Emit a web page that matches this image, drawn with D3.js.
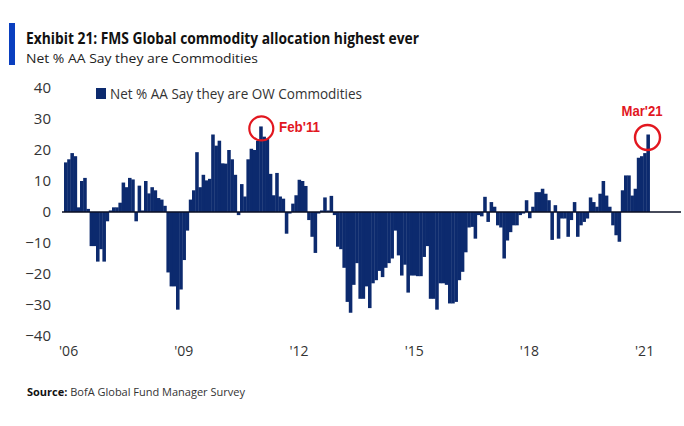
<!DOCTYPE html>
<html>
<head>
<meta charset="utf-8">
<script src="https://cdn.jsdelivr.net/npm/d3@7"></script>
<style>
  html, body { margin: 0; padding: 0; background: #fff; }
  svg { display: block; }
</style>
</head>
<body>
<svg id="chart" width="684" height="426"></svg>
<script>
// ---- data (monthly, Jan 2006 .. Mar 2021) ----
const startYear = 2006;
const values = [
  16, 17, 19, 18, 1.5, 10, 11, 1, -11, -11, -16, -12,          // 2006
  -16, -3, 0.5, 1.5, 1.5, 3, 9.5, 8, 11, 10.5, -3, 8.5,        // 2007
  0.5, 10, 6, 8, 7, 4.5, 4, 2, -19.5, -24, -24, -31.5,         // 2008
  -25, -15.5, -6, 4, 7, 19.3, 8, 12, 10.2, 10.7, 25, 21.4,     // 2009
  23, 15.7, 15.6, 20, 17, 12, -1, 9, 5, 17, 20.4, 20,          // 2010
  23, 27.6, 24.3, 23.6, 12.3, 5.4, 12.6, 5, 4.3, -7, -0.5, 2.7, // 2011
  5.4, 10.4, 10, 8.4, -2.6, -8, -13.2, -0.5, 0.5, 4.7, 0.5, 5.2, // 2012
  -1, -11.2, -12, -18, -29, -32.5, -23.5, -16.5, -28, -28, -24, -31, // 2013
  -23, -22, -19, -21, -18, -16.5, -15, -6, -14, -20.5, -17, -26, // 2014
  -20.5, -20.5, -20.7, -20.7, -14.5, -11, -28, -28, -31.5, -23, -23, -23.5, // 2015
  -29.5, -29.5, -29, -22, -19.3, -13, -5, -4.8, -8.6, -1, -1.4, 4.9, // 2016
  -3.2, 3.2, 1.7, -4.3, -5, -15, -9.2, -6.5, -4.3, -4.3, -1, -0.5, // 2017
  3.8, -2, 1.7, 6.4, 6.4, 7.5, 5.9, 3.8, -9, 2.2, -8.6, -2.1,  // 2018
  -2.1, -8, -2.6, 3.2, -8, -4.3, -3.2, -2.1, 4.7, 3.2, 1.7, 5.9, // 2019
  10, 5.3, 1.7, -4.3, -7.5, -9.6, 7, 11.8, 11.8, 5.3, 7.5, 17.5, // 2020
  18, 19, 25                                                   // 2021
];
const yTicks = [40, 30, 20, 10, 0, -10, -20, -30, -40];
const tickYears = [2006, 2009, 2012, 2015, 2018, 2021];
const tickLabels = ["'06", "'09", "'12", "'15", "'18", "'21"];
const callouts = [
  { year: 2011, month: 1, label: "Feb'11" },
  { year: 2021, month: 2, label: "Mar'21" }
];
const seriesName = "Net % AA Say they are OW Commodities";
const titleText = "Exhibit 21: FMS Global commodity allocation highest ever";
const subtitleText = "Net % AA Say they are Commodities";

// ---- drawing ----
const navy = "#0c2a6e";
const red = "#e2171f";
const svg = d3.select("#chart");

const idx = d3.range(values.length);
const x = d3.scaleBand().domain(idx).range([64, 64 + 3.2 * values.length]).paddingInner(0).paddingOuter(0);
const y = d3.scaleLinear().domain([-40, 40]).range([336, 88]);
const monthIndex = (yr, m) => (yr - startYear) * 12 + m;

// title block
svg.append("rect").attr("x", 9).attr("y", 23).attr("width", 6).attr("height", 42).attr("fill", "#0a3fbf");
svg.append("text").attr("x", 26).attr("y", 43.5)
  .attr("font-family", "'Liberation Sans Narrow', 'Open Sans', sans-serif")
  .attr("font-weight", "bold").attr("font-size", 16).attr("fill", "#111")
  .attr("textLength", 393).attr("lengthAdjust", "spacingAndGlyphs")
  .text(titleText);
svg.append("text").attr("x", 26).attr("y", 62.5)
  .attr("font-family", "'Open Sans', sans-serif")
  .attr("font-size", 13.5).attr("fill", "#222")
  .attr("textLength", 232).attr("lengthAdjust", "spacingAndGlyphs")
  .text(subtitleText);

// y axis labels
const yAxis = d3.axisLeft(y).tickValues(yTicks).tickSize(0).tickPadding(0);
const gy = svg.append("g").attr("transform", "translate(51,0)").call(yAxis);
gy.select(".domain").remove();
gy.selectAll("text")
  .attr("font-family", "'Open Sans', sans-serif")
  .attr("font-size", 15).attr("fill", "#333");

// x axis labels
const xAxis = d3.axisBottom(x)
  .tickValues(tickYears.map(yr => monthIndex(yr, 0)))
  .tickFormat((d, i) => tickLabels[i])
  .tickSize(0).tickPadding(0);
const gx = svg.append("g").attr("transform", "translate(3,346)").call(xAxis);
gx.select(".domain").remove();
gx.selectAll("text")
  .attr("font-family", "'Open Sans', sans-serif")
  .attr("font-size", 14).attr("fill", "#333");

// bars (slight overlap so neighbouring months read as a solid block)
svg.append("g").selectAll("rect").data(values).join("rect")
  .attr("x", (d, i) => x(i))
  .attr("width", x.bandwidth() + 0.35)
  .attr("y", d => y(Math.max(0, d)))
  .attr("height", d => Math.abs(y(d) - y(0)))
  .attr("fill", navy);

// zero line
svg.append("line")
  .attr("x1", 62).attr("x2", 681)
  .attr("y1", y(0)).attr("y2", y(0))
  .attr("stroke", "#0a0f24").attr("stroke-width", 1.6);

// legend
svg.append("rect").attr("x", 96).attr("y", 88).attr("width", 10).attr("height", 11)
  .attr("fill", navy);
svg.append("text").attr("x", 110).attr("y", 99)
  .attr("font-family", "'Open Sans', sans-serif")
  .attr("font-size", 14).attr("fill", "#333")
  .attr("textLength", 252).attr("lengthAdjust", "spacingAndGlyphs")
  .text(seriesName);

// callouts
const c1 = callouts[0], c2 = callouts[1];
const i1 = monthIndex(c1.year, c1.month), i2 = monthIndex(c2.year, c2.month);
svg.append("circle")
  .attr("cx", x(i1) + x.bandwidth() / 2 + 0.5).attr("cy", y(values[i1]) + 2)
  .attr("r", 12).attr("fill", "none").attr("stroke", red).attr("stroke-width", 2.2);
svg.append("text").attr("x", 279).attr("y", 132)
  .attr("font-family", "'Liberation Sans', Arial, sans-serif")
  .attr("font-weight", "bold").attr("font-size", 14).attr("fill", red)
  .attr("textLength", 41).attr("lengthAdjust", "spacingAndGlyphs")
  .text(c1.label);
svg.append("circle")
  .attr("cx", x(i2) + x.bandwidth() / 2 - 0.5).attr("cy", y(values[i2]) + 3)
  .attr("r", 12.5).attr("fill", "none").attr("stroke", red).attr("stroke-width", 2.4);
svg.append("text").attr("x", 642).attr("y", 116).attr("text-anchor", "middle")
  .attr("font-family", "'Liberation Sans', Arial, sans-serif")
  .attr("font-weight", "bold").attr("font-size", 14).attr("fill", red)
  .attr("textLength", 41).attr("lengthAdjust", "spacingAndGlyphs")
  .text(c2.label);

// source
const src = svg.append("text").attr("x", 27).attr("y", 396)
  .attr("font-family", "'Liberation Sans Narrow', 'Open Sans', sans-serif")
  .attr("font-size", 11).attr("fill", "#333");
src.append("tspan").attr("font-weight", "bold").attr("fill", "#111").text("Source:");
src.append("tspan").text(" BofA Global Fund Manager Survey");
</script>
</body>
</html>
